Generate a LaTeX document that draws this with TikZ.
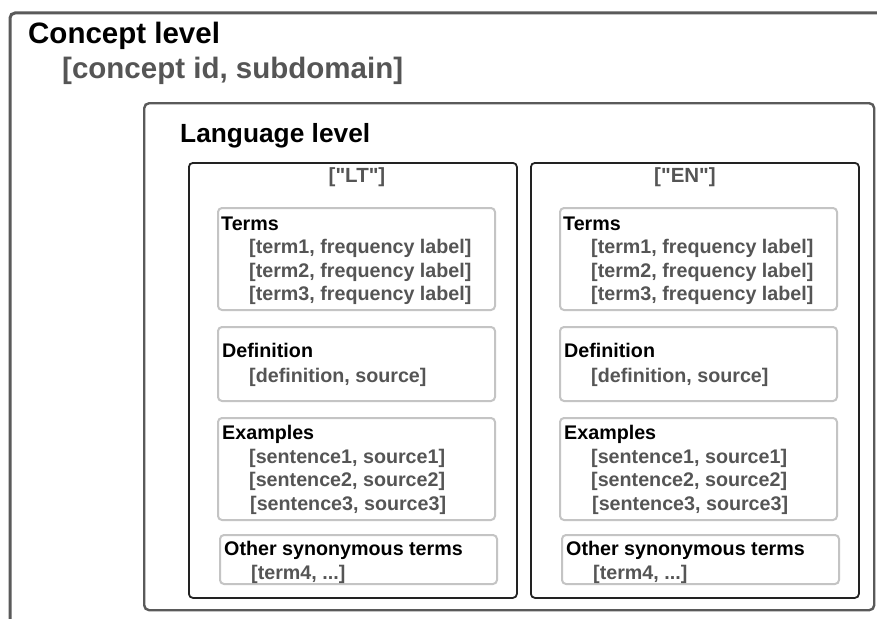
\documentclass[tikz,border=0pt]{standalone}
\usepackage{fontspec}
\setmainfont{Liberation Sans}[Ligatures=TeXOff]
\definecolor{outergray}{HTML}{5A5A5A}
\definecolor{txtgray}{HTML}{555555}
\definecolor{subgray}{HTML}{C4C4C4}
\definecolor{langbox}{HTML}{222222}
\tikzset{
  outerline/.style={draw=outergray, line width=3pt, rounded corners=5pt},
  levelbox/.style={draw=outergray, line width=2.4pt, rounded corners=5pt, inner sep=0pt, anchor=north west},
  lngbox/.style={draw=langbox, line width=1.8pt, rounded corners=4pt, inner sep=0pt, anchor=north west},
  subbox/.style={draw=subgray, line width=2pt, rounded corners=4pt, inner sep=0pt, anchor=north west},
  bigtitle/.style={inner sep=0pt, anchor=base west, font=\fontsize{29.5}{35}\selectfont\bfseries},
  bigsub/.style={inner sep=0pt, anchor=base west, text=txtgray, font=\fontsize{29.5}{35}\selectfont\bfseries},
  midtitle/.style={inner sep=0pt, anchor=base west, font=\fontsize{26.3}{31}\selectfont\bfseries},
  langlabel/.style={inner sep=0pt, anchor=base, text=txtgray, font=\fontsize{20.5}{24}\selectfont\bfseries},
  subtitle/.style={inner sep=0pt, anchor=base west, font=\fontsize{19.7}{23}\selectfont\bfseries},
  subtext/.style={inner sep=0pt, anchor=base west, text=txtgray, font=\fontsize{19.7}{23}\selectfont\bfseries},
}
\begin{document}
\begin{tikzpicture}[x=1pt, y=-1pt]
\useasboundingbox (0,0) rectangle (877,618);
\clip (0,0) rectangle (877,618);
\fill[white] (0,0) rectangle (877,618);
% outer concept box (extends beyond the picture)
\coordinate (obl) at (10,650);
\coordinate (otl) at (10,13);
\coordinate (otr) at (900,13);
\draw[outerline] (obl) -- (otl) -- (otr);
\node[bigtitle] (concept) at (28,44) {Concept level};
\node[bigsub] (conceptsub) at (62,78) {[concept id, subdomain]};
% language level
\node[levelbox, minimum width=730pt, minimum height=507pt] (langlevel) at (143,102) {};
\node[midtitle] (langtitle) at (180,142) {Language level};
% two language columns
\foreach \dx/\nm/\lab/\lx in {0/lt/{["LT"]}/357, 342/en/{["EN"]}/685} {
  \node[lngbox, minimum width=328pt, minimum height=435pt] (\nm box) at (188+\dx,162) {};
  \node[langlabel] (\nm lab) at (\lx,182) {\lab};
  % Terms
  \node[subbox, minimum width=277pt, minimum height=102pt] (\nm terms) at (217+\dx,207) {};
  \node[subtitle] (\nm termsT) at (221+\dx,230) {Terms};
  \node[subtext] (\nm t1) at (249+\dx,253) {[term1, frequency label]};
  \node[subtext] (\nm t2) at (249+\dx,277) {[term2, frequency label]};
  \node[subtext] (\nm t3) at (249+\dx,300) {[term3, frequency label]};
  % Definition
  \node[subbox, minimum width=277pt, minimum height=74pt] (\nm def) at (217+\dx,326) {};
  \node[subtitle] (\nm defT) at (222+\dx,357) {Definition};
  \node[subtext] (\nm d1) at (249+\dx,382) {[definition, source]};
  % Examples
  \node[subbox, minimum width=277pt, minimum height=102pt] (\nm ex) at (217+\dx,417) {};
  \node[subtitle] (\nm exT) at (222+\dx,439) {Examples};
  \node[subtext] (\nm e1) at (249+\dx,463) {[sentence1, source1]};
  \node[subtext] (\nm e2) at (249+\dx,486) {[sentence2, source2]};
  \node[subtext] (\nm e3) at (250+\dx,510) {[sentence3, source3]};
  % Other synonymous terms
  \node[subbox, minimum width=277pt, minimum height=49pt] (\nm oth) at (219+\dx,534) {};
  \node[subtitle] (\nm othT) at (224+\dx,555) {Other synonymous terms};
  \node[subtext] (\nm o1) at (251+\dx,579) {[term4, ...]};
}
\end{tikzpicture}
\end{document}
